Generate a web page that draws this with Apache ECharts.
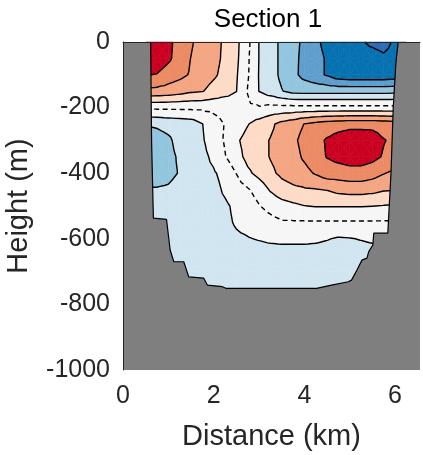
<!DOCTYPE html>
<html>
<head>
<meta charset="utf-8">
<script src="https://cdn.jsdelivr.net/npm/echarts@6/dist/echarts.min.js"></script>
<style>
  html, body { margin: 0; padding: 0; background: #ffffff; }
  #chart { width: 423px; height: 455px; }
</style>
</head>
<body>
<div id="chart"></div>
<script>
// ---- Section grid: distance nodes (km) and height nodes (m) ----
const distKm = [0.5, 0.75, 1.0, 1.25, 1.5, 1.75, 2.0, 2.25, 2.5, 2.75, 3.0, 3.25,
                3.5, 3.75, 4.0, 4.25, 4.5, 4.75, 5.0, 5.25, 5.5, 5.75, 6.0, 6.25];
const heightM = [0, -50, -100, -150, -200, -250, -300, -350, -400,
                 -450, -500, -550, -600, -650, -700, -750, -800];

// ---- Field values, one row per height node (units of contour interval) ----
const row0   = [5.0, 4.8, 4.3, 3.5, 3.1, 2.6, 2.3, 1.85, 1.25, 0.25, -1.02, -1.6, -2.2, -2.7, -3.2, -3.8, -4.3, -4.6, -4.8, -4.95, -5.1, -5.2, -4.9, -4.9];
const row50  = [5.0, 4.7, 4.2, 3.5, 2.98, 2.6, 2.3, 1.8, 1.2, 0.15, -1.02, -1.6, -2.2, -2.75, -3.25, -3.7, -4.1, -4.6, -4.8, -4.8, -4.8, -4.9, -4.8, -4.8];
const row100 = [4.05, 3.95, 3.5, 3.25, 2.9, 2.5, 2.15, 1.7, 1.1, 0.1, -1.05, -1.6, -2.2, -2.75, -3.3, -3.7, -4.1, -4.6, -4.7, -4.7, -4.7, -4.7, -4.6, -4.6];
const row150 = [2.75, 2.7, 2.6, 2.4, 2.15, 2.05, 1.65, 1.35, 1.02, -0.05, -1.02, -1.5, -1.95, -2.3, -2.35, -2.35, -2.35, -2.35, -2.35, -2.35, -2.35, -2.35, -2.3, -2.3];
const row200 = [0.2, 0.2, 0.2, 0.2, 0.2, 0.2, 0.25, 0.3, 0.4, 0.2, 0.1, 0.3, 0.3, 0.3, 0.3, 0.3, 0.3, 0.3, 0.3, 0.3, 0.3, 0.3, 0.3, 0.3];
const row250 = [-1.95, -1.85, -1.7, -1.6, -1.5, -1.02, -0.4, 0.05, 0.4, 0.95, 1.4, 1.8, 2.3, 2.6, 3.02, 3.3, 3.5, 3.6, 3.7, 3.7, 3.7, 3.6, 3.5, 3.5];
const row300 = [-2.5, -2.4, -2.15, -1.7, -1.4, -1.1, -0.5, 0.1, 0.85, 1.35, 1.7, 2.05, 2.4, 2.8, 3.3, 3.7, 4.1, 4.4, 4.6, 4.6, 4.5, 4.05, 3.8, 3.8];
const row350 = [-2.5, -2.5, -2.2, -1.9, -1.5, -1.25, -0.8, -0.05, 0.6, 1.3, 1.65, 2.05, 2.35, 2.65, 3.15, 3.6, 4.05, 4.3, 4.5, 4.5, 4.3, 3.9, 3.6, 3.6];
const row400 = [-2.3, -2.3, -2.2, -1.95, -1.5, -1.3, -1.1, -0.7, 0.02, 0.8, 1.3, 1.8, 2.2, 2.45, 2.7, 3.1, 3.5, 3.5, 3.6, 3.6, 3.4, 3.05, 2.8, 2.8];
const row450 = [-1.95, -1.95, -1.9, -1.7, -1.5, -1.4, -1.3, -0.85, -0.45, -0.1, 0.4, 1.1, 1.6, 1.8, 1.9, 1.95, 2.05, 2.3, 2.4, 2.4, 2.3, 2.1, 2.05, 2.05];
const row500 = [-1.6, -1.55, -1.5, -1.5, -1.5, -1.45, -1.35, -1.15, -0.8, -0.5, -0.05, 0.3, 0.6, 0.8, 0.98, 1.05, 1.05, 1.05, 1.05, 1.05, 1.02, 0.95, 0.9, 0.9];
const row550 = [-1.6, -1.6, -1.55, -1.5, -1.5, -1.5, -1.4, -1.2, -0.9, -0.7, -0.5, -0.3, -0.1, -0.1, -0.1, -0.1, -0.1, -0.1, -0.1, -0.1, -0.1, -0.1, -0.1, -0.1];
const row600 = [-1.6, -1.6, -1.6, -1.55, -1.5, -1.5, -1.45, -1.35, -1.15, -1.05, -0.95, -0.85, -0.8, -0.8, -0.8, -0.85, -0.95, -1.1, -1.05, -0.95, -0.85, -0.8, -0.8, -0.8];
const row650 = [-1.6, -1.6, -1.6, -1.6, -1.55, -1.55, -1.5, -1.5, -1.45, -1.4, -1.4, -1.4, -1.4, -1.4, -1.4, -1.4, -1.45, -1.5, -1.5, -1.45, -1.4, -1.4, -1.4, -1.4];
const row700 = [-1.6, -1.6, -1.6, -1.6, -1.55, -1.55, -1.55, -1.55, -1.55, -1.55, -1.55, -1.55, -1.55, -1.55, -1.55, -1.55, -1.55, -1.55, -1.55, -1.55, -1.55, -1.55, -1.55, -1.55];
const row750 = [-1.6, -1.6, -1.6, -1.6, -1.6, -1.6, -1.6, -1.6, -1.6, -1.6, -1.6, -1.6, -1.6, -1.6, -1.6, -1.6, -1.6, -1.6, -1.6, -1.6, -1.6, -1.6, -1.6, -1.6];
const row800 = [-1.6, -1.6, -1.6, -1.6, -1.6, -1.6, -1.6, -1.6, -1.6, -1.6, -1.6, -1.6, -1.6, -1.6, -1.6, -1.6, -1.6, -1.6, -1.6, -1.6, -1.6, -1.6, -1.6, -1.6];
const field = [row0, row50, row100, row150, row200, row250, row300, row350, row400,
               row450, row500, row550, row600, row650, row700, row750, row800];

// ---- Filled bands: edges and colours (blue = negative, red = positive) ----
const bandEdges = [-5, -4, -3, -2, -1, 1, 2, 3, 4];
const bandColors = ['#2a6bb5', '#0571b0', '#5e9ecd', '#92c5de', '#d1e5f0',
                    '#f6f6f6', '#fddbc7', '#f4a582', '#eb8a63', '#ca0020'];
// ---- Contour lines (0 drawn dashed) ----
const lineLevels = [-5, -4, -3, -2, -1, 0, 1, 2, 3, 4];

// ---- Water outline of the section (km, m), from the left surface to the right surface ----
const bedX = [0.61, 0.63, 0.67, 0.96, 1.04, 1.12, 1.34, 1.45, 1.78, 1.86, 2.19, 2.27, 4.27,
              4.60, 4.97, 5.04, 5.16, 5.27, 5.38, 5.42, 5.51, 5.53, 5.84, 5.91, 5.96, 6.02, 6.07];
const bedZ = [0, -300, -537, -541, -634, -670, -670, -716, -720, -741, -746, -751, -751,
              -741, -731, -726, -695, -665, -659, -639, -619, -583, -583, -400, -200, -60, 0];

// ---- Axis ticks ----
const xTicks = [0, 2, 4, 6];
const yTicks = [0, -200, -400, -600, -800, -1000];
const xMax = 6.55;

// ===== Triangulated grid (each cell split into 4 triangles around its centre) =====
const nx = distKm.length, nz = heightM.length;
const nodes = [];
for (let j = 0; j < nz; j++)
  for (let i = 0; i < nx; i++) nodes[j * nx + i] = [distKm[i], heightM[j], field[j][i]];
const cells = [];
let nextId = nx * nz;
for (let j = 0; j < nz - 1; j++) {
  for (let i = 0; i < nx - 1; i++) {
    const a = j * nx + i, b = a + 1, c = a + nx + 1, d = a + nx;
    const m = nextId++;
    nodes[m] = [(distKm[i] + distKm[i + 1]) / 2, (heightM[j] + heightM[j + 1]) / 2,
                (nodes[a][2] + nodes[b][2] + nodes[c][2] + nodes[d][2]) / 4];
    cells.push({ centre: [nodes[m][0], nodes[m][1]], tris: [[a, b, m], [b, c, m], [c, d, m], [d, a, m]] });
  }
}

// clip a polygon (points [x, z, v]) to the half where f >= 0
function clipPoly(poly, f) {
  const out = [];
  for (let k = 0; k < poly.length; k++) {
    const p = poly[k], q = poly[(k + 1) % poly.length];
    const fp = f(p), fq = f(q);
    if (fp >= 0) out.push(p);
    if ((fp >= 0) !== (fq >= 0)) {
      const t = fp / (fp - fq);
      out.push([p[0] + t * (q[0] - p[0]), p[1] + t * (q[1] - p[1]), p[2] + t * (q[2] - p[2])]);
    }
  }
  return out;
}

// filled band pieces per cell
cells.forEach(cell => {
  cell.pieces = [];
  cell.tris.forEach(tri => {
    const poly = tri.map(id => nodes[id]);
    const vs = poly.map(p => p[2]);
    const vmin = Math.min(...vs), vmax = Math.max(...vs);
    for (let b = 0; b < bandColors.length; b++) {
      const lo = b === 0 ? -Infinity : bandEdges[b - 1];
      const hi = b === bandColors.length - 1 ? Infinity : bandEdges[b];
      if (hi < vmin || lo > vmax) continue;
      let p = clipPoly(poly, q => q[2] - lo);
      if (p.length < 3) continue;
      p = clipPoly(p, q => hi - q[2]);
      if (p.length < 3) continue;
      cell.pieces.push({ pts: p.map(q => [q[0], q[1]]), color: bandColors[b] });
    }
  });
});

// contour polylines, chained through shared triangle edges
const contourLines = [];
lineLevels.forEach(L => {
  const pts = new Map();
  const segs = [];
  const edgeKey = (p, q) => {
    const u = Math.min(p, q), w = Math.max(p, q);
    const key = u + '_' + w;
    if (!pts.has(key)) {
      const A = nodes[u], B = nodes[w];
      const t = (L - A[2]) / (B[2] - A[2]);
      pts.set(key, [A[0] + t * (B[0] - A[0]), A[1] + t * (B[1] - A[1])]);
    }
    return key;
  };
  cells.forEach(cell => cell.tris.forEach(tri => {
    const up = tri.map(id => nodes[id][2] >= L);
    if (up[0] === up[1] && up[1] === up[2]) return;
    const keys = [];
    for (let k = 0; k < 3; k++) {
      const p = tri[k], q = tri[(k + 1) % 3];
      if (up[k] !== up[(k + 1) % 3]) keys.push(edgeKey(p, q));
    }
    if (keys.length === 2) segs.push(keys);
  }));
  const adj = new Map();
  segs.forEach((s, k) => s.forEach(e => { if (!adj.has(e)) adj.set(e, []); adj.get(e).push(k); }));
  const used = new Array(segs.length).fill(false);
  const walk = (seg, key) => {
    const chain = [key];
    while (seg !== -1 && !used[seg]) {
      used[seg] = true;
      const s = segs[seg];
      const next = s[0] === key ? s[1] : s[0];
      chain.push(next);
      seg = -1;
      for (const k of adj.get(next)) if (!used[k]) { seg = k; break; }
      key = next;
    }
    return chain;
  };
  const chains = [];
  adj.forEach((list, e) => { if (list.length === 1 && !used[list[0]]) chains.push(walk(list[0], e)); });
  segs.forEach((s, k) => { if (!used[k]) chains.push(walk(k, s[0])); });
  chains.forEach(ch => contourLines.push({ level: L, pts: ch.map(k => pts.get(k)) }));
});

// land (grey) polygon: plot frame minus the water outline
const bedPts = bedX.map((x, k) => [x, bedZ[k]]);
const landPts = [[0, 0]].concat(bedPts, [[xMax, 0], [xMax, -1000], [0, -1000]]);

const FONT = '"Liberation Sans", Arial, Helvetica, sans-serif';
const chart = echarts.init(document.getElementById('chart'), null, { renderer: 'canvas' });
chart.setOption({
  animation: false,
  backgroundColor: '#ffffff',
  grid: { left: 123, right: 3, top: 42, bottom: 85, containLabel: false, outerBoundsMode: 'none' },
  graphic: [{
    type: 'text', x: 268, y: 20, z: 20,
    style: { text: 'Section 1', font: '26px ' + FONT, fill: '#000000',
             textAlign: 'center', textVerticalAlign: 'middle' }
  }],
  xAxis: {
    type: 'value', min: 0, max: xMax, interval: 2, z: 10,
    axisLine: { show: true, lineStyle: { color: '#262626', width: 1 } },
    axisTick: { show: false }, splitLine: { show: false },
    axisLabel: {
      fontSize: 25, fontFamily: FONT, color: '#262626', margin: 14,
      showMaxLabel: false,
      formatter: v => (xTicks.indexOf(v) >= 0 ? String(v) : '')
    },
    name: 'Distance (km)', nameLocation: 'middle', nameGap: 52,
    nameTextStyle: { fontSize: 29, fontFamily: FONT, color: '#262626' }
  },
  yAxis: {
    type: 'value', min: -1000, max: 0, interval: 200, z: 10,
    axisLine: { show: true, lineStyle: { color: '#262626', width: 1 } },
    axisTick: { show: false }, splitLine: { show: false },
    axisLabel: {
      fontSize: 25, fontFamily: FONT, color: '#262626', margin: 13,
      formatter: v => (yTicks.indexOf(v) >= 0 ? String(v) : '')
    },
    name: 'Height (m)', nameLocation: 'middle', nameGap: 90, nameRotate: 90,
    nameTextStyle: { fontSize: 29, fontFamily: FONT, color: '#262626' }
  },
  series: [
    {
      // filled contour bands
      type: 'custom', coordinateSystem: 'cartesian2d', z: 2, silent: true,
      data: cells.map(c => c.centre),
      renderItem: (params, api) => {
        const cell = cells[params.dataIndex];
        return {
          type: 'group',
          children: cell.pieces.map(pc => ({
            type: 'polygon',
            shape: { points: pc.pts.map(p => api.coord(p)) },
            style: { fill: pc.color, stroke: pc.color, lineWidth: 0.6 }
          }))
        };
      }
    },
    {
      // contour lines
      type: 'custom', coordinateSystem: 'cartesian2d', z: 3, silent: true,
      data: contourLines.map(c => c.pts[0]),
      renderItem: (params, api) => {
        const c = contourLines[params.dataIndex];
        return {
          type: 'polyline',
          shape: { points: c.pts.map(p => api.coord(p)) },
          style: { fill: 'none', stroke: '#000000', lineWidth: 1.4,
                   lineDash: c.level === 0 ? [5, 3.5] : null }
        };
      }
    },
    {
      // land
      type: 'custom', coordinateSystem: 'cartesian2d', z: 4, silent: true,
      data: [landPts[0]],
      renderItem: (params, api) => ({
        type: 'polygon',
        shape: { points: landPts.map(p => api.coord(p)) },
        style: { fill: '#7f7f7f', stroke: null }
      })
    },
    {
      // water outline
      type: 'line', z: 5, silent: true, showSymbol: false,
      data: bedPts,
      lineStyle: { color: '#000000', width: 1.2 }
    }
  ]
});
</script>
</body>
</html>
